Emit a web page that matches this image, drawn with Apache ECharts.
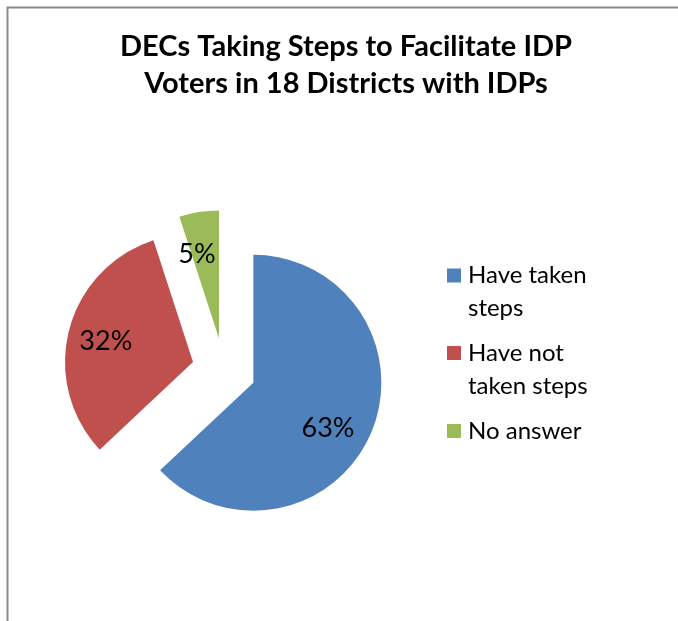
<!DOCTYPE html>
<html>
<head>
<meta charset="utf-8">
<script src="https://cdn.jsdelivr.net/npm/echarts@6/dist/echarts.min.js"></script>
<style>
  html, body { margin: 0; padding: 0; background: #fff; }
  #chart { width: 678px; height: 621px; }
</style>
</head>
<body>
<div id="chart"></div>
<script>
// Share of DECs (in districts with IDPs) by answer
var categories = ['Have taken steps', 'Have not taken steps', 'No answer'];
var shares = [63, 32, 5];
var colors = ['#4F81BD', '#C0504D', '#9BBB59'];
var titleText = 'DECs Taking Steps to Facilitate IDP\nVoters in 18 Districts with IDPs';

var FONT = 'Lato';
var PIE_CENTER = [224, 370];
var PIE_R = 128;
var EXPLODE = 32;

var pieData = categories.map(function (name, i) {
  return { name: name, value: shares[i], selected: true };
});

// legend entries wrap after the second word
function wrapName(name) {
  return name.replace(/^(\S+ \S+) /, '$1\n');
}

var LEGEND_LH = 33;
// vertical centre of each legend swatch
var legendCenters = [275.5, 353, 431];
var legends = categories.map(function (name, i) {
  var twoLines = wrapName(name).indexOf('\n') >= 0;
  // a leading empty line keeps the swatch beside the first text line
  var half = twoLines ? LEGEND_LH * 1.5 : LEGEND_LH * 0.5;
  return {
    orient: 'vertical',
    left: 447,
    top: legendCenters[i] - half,
    padding: 0,
    itemWidth: 14,
    itemHeight: 14,
    icon: 'rect',
    selectedMode: false,
    formatter: function (n) {
      var w = wrapName(n);
      return w.indexOf('\n') >= 0 ? '\n' + w : w;
    },
    textStyle: {
      fontFamily: FONT,
      fontSize: 24,
      color: '#000',
      lineHeight: LEGEND_LH,
      padding: [0, 0, 0, 2]
    },
    data: [name]
  };
});

// small nudges of the percentage labels
var labelNudge = [[-8, 10], [0, 2], [-8, 5]];

var chart = echarts.init(document.getElementById('chart'), null, { renderer: 'canvas' });
chart.setOption({
  backgroundColor: '#fff',
  animation: false,
  color: colors,
  title: {
    text: titleText,
    left: 341,
    top: 23,
    textAlign: 'center',
    textStyle: {
      fontFamily: FONT,
      fontWeight: 'bold',
      fontSize: 29,
      lineHeight: 37,
      color: '#000'
    }
  },
  legend: legends,
  graphic: [{
    type: 'rect',
    shape: { x: 7.5, y: 7.5, width: 800, height: 800 },
    style: { fill: 'none', stroke: '#8a8a8a', lineWidth: 2 },
    silent: true,
    z: -1
  }],
  series: [{
    // the exploded slices
    type: 'pie',
    center: PIE_CENTER,
    radius: [0, PIE_R],
    startAngle: 90,
    clockwise: true,
    selectedMode: 'multiple',
    selectedOffset: EXPLODE,
    label: { show: false },
    labelLine: { show: false },
    emphasis: { disabled: true },
    data: pieData
  }, {
    // percentage labels, placed at ~2/3 of the radius on each slice
    type: 'pie',
    center: PIE_CENTER,
    radius: [46, PIE_R],
    startAngle: 90,
    clockwise: true,
    selectedMode: 'multiple',
    selectedOffset: EXPLODE,
    silent: true,
    itemStyle: { color: 'rgba(0,0,0,0)' },
    label: {
      show: true,
      position: 'inside',
      formatter: '{c}%',
      fontFamily: FONT,
      fontSize: 27,
      color: '#000'
    },
    labelLayout: function (params) {
      var d = labelNudge[params.dataIndex] || [0, 0];
      return { dx: d[0], dy: d[1] };
    },
    labelLine: { show: false },
    emphasis: { disabled: true },
    data: pieData
  }]
});
</script>
</body>
</html>
